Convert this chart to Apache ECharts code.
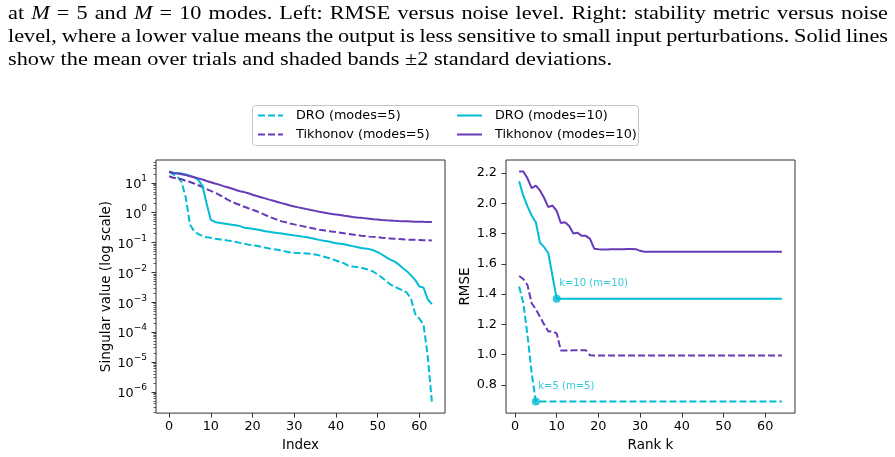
<!DOCTYPE html>
<html><head><meta charset="utf-8">
<script src="https://cdn.jsdelivr.net/npm/echarts@6/dist/echarts.min.js"></script>
<style>html,body{margin:0;padding:0;background:#fff}#c{width:895px;height:457px}</style>
</head><body><div id="c"></div>
<script>
// ---------- caption ----------
const captionLines = [
  'at M = 5 and M = 10 modes. Left: RMSE versus noise level. Right: stability metric versus noise',
  'level, where a lower value means the output is less sensitive to small input perturbations. Solid lines',
  'show the mean over trials and shaded bands \u00b12 standard deviations.'
];
const italicWords = ['M'];

// ---------- legend / series names ----------
const nameDro5 = 'DRO (modes=5)';
const nameDro10 = 'DRO (modes=10)';
const nameTik5 = 'Tikhonov (modes=5)';
const nameTik10 = 'Tikhonov (modes=10)';

// ---------- left panel: singular values vs index ----------
const svIndex = [0,1,2,3,4,5,6,7,8,9,10,11,12,13,14,15,16,17,18,19,20,21,22,23,24,25,26,27,28,29,30,31,
  32,33,34,35,36,37,38,39,40,41,42,43,44,45,46,47,48,49,50,51,52,53,54,55,56,57,58,59,60,61,62,63];
const svDro5 = [23.4,19.1,16.2,10.5,3.16,0.398,0.240,0.191,0.166,0.151,
  0.145,0.135,0.129,0.123,0.117,0.112,0.105,0.0977,0.0912,0.0851,
  0.0813,0.0776,0.0724,0.0676,0.0631,0.0603,0.0575,0.0537,0.0501,0.0468,
  0.0457,0.0447,0.0437,0.0427,0.0417,0.0398,0.0372,0.0339,0.0309,0.0282,
  0.0251,0.0224,0.0200,0.0166,0.0158,0.0151,0.0145,0.0132,0.0120,0.0105,
  0.00851,0.00676,0.00525,0.00398,0.00339,0.00288,0.00251,0.00209,0.00132,0.000407,
  0.000282,0.000178,0.0000158,0.00000047];
const svDro10 = [24.0,21.9,21.4,20.4,19.1,17.4,15.5,12.6,7.94,2.00,
  0.575,0.490,0.457,0.437,0.417,0.398,0.380,0.355,0.316,0.302,
  0.288,0.275,0.257,0.240,0.229,0.219,0.209,0.200,0.191,0.182,
  0.174,0.166,0.158,0.151,0.141,0.132,0.123,0.115,0.110,0.102,
  0.0955,0.0912,0.0871,0.0813,0.0759,0.0708,0.0661,0.0631,0.0603,0.0550,
  0.0479,0.0398,0.0324,0.0269,0.0234,0.0186,0.0141,0.0110,0.00794,0.00562,
  0.00339,0.00309,0.00126,0.00087];
const svTik5 = [16.6,14.8,13.8,13.2,11.7,10.7,9.55,8.32,7.24,6.17,
  5.37,4.68,3.98,3.31,2.75,2.34,2.04,1.82,1.58,1.41,
  1.26,1.12,0.977,0.851,0.724,0.646,0.575,0.513,0.479,0.437,
  0.407,0.380,0.355,0.331,0.309,0.288,0.269,0.257,0.245,0.234,
  0.224,0.214,0.204,0.195,0.186,0.178,0.170,0.166,0.158,0.155,
  0.151,0.145,0.141,0.138,0.135,0.132,0.129,0.126,0.124,0.123,
  0.122,0.120,0.119,0.117];
const svTik10 = [23.4,21.4,20.4,19.5,18.2,16.6,15.5,14.1,12.9,11.5,
  10.5,9.55,8.71,7.76,7.08,6.46,5.75,5.25,4.90,4.47,
  3.98,3.63,3.31,3.02,2.75,2.51,2.29,2.09,1.91,1.74,
  1.62,1.51,1.41,1.32,1.23,1.15,1.07,1.02,0.955,0.912,
  0.871,0.832,0.794,0.759,0.724,0.692,0.676,0.646,0.631,0.603,
  0.589,0.575,0.562,0.550,0.537,0.525,0.519,0.513,0.507,0.501,
  0.501,0.495,0.490,0.490];

// ---------- right panel: RMSE vs rank k ----------
const rankK = [1,2,3,4,5,6,7,8,9,10,11,12,13,14,15,16,17,18,19,20,21,22,23,24,25,26,27,28,29,30,31,32,
  33,34,35,36,37,38,39,40,41,42,43,44,45,46,47,48,49,50,51,52,53,54,55,56,57,58,59,60,61,62,63,64];
const rmseDro5 = [1.45,1.34,1.13,0.88,0.69,0.69,0.69,0.69,0.69,0.69,
  0.69,0.69,0.69,0.69,0.69,0.69,0.69,0.69,0.69,0.69,
  0.69,0.69,0.69,0.69,0.69,0.69,0.69,0.69,0.69,0.69,
  0.69,0.69,0.69,0.69,0.69,0.69,0.69,0.69,0.69,0.69,
  0.69,0.69,0.69,0.69,0.69,0.69,0.69,0.69,0.69,0.69,
  0.69,0.69,0.69,0.69,0.69,0.69,0.69,0.69,0.69,0.69,
  0.69,0.69,0.69,0.69];
const rmseDro10 = [2.145,2.05,1.98,1.92,1.875,1.74,1.71,1.67,1.52,1.37,
  1.37,1.37,1.37,1.37,1.37,1.37,1.37,1.37,1.37,1.37,
  1.37,1.37,1.37,1.37,1.37,1.37,1.37,1.37,1.37,1.37,
  1.37,1.37,1.37,1.37,1.37,1.37,1.37,1.37,1.37,1.37,
  1.37,1.37,1.37,1.37,1.37,1.37,1.37,1.37,1.37,1.37,
  1.37,1.37,1.37,1.37,1.37,1.37,1.37,1.37,1.37,1.37,
  1.37,1.37,1.37,1.37];
const rmseTik5 = [1.52,1.50,1.46,1.34,1.30,1.25,1.20,1.153,1.155,1.14,
  1.028,1.027,1.028,1.029,1.029,1.029,1.029,0.996,0.995,0.995,
  0.995,0.995,0.995,0.995,0.995,0.995,0.995,0.995,0.995,0.995,
  0.995,0.995,0.995,0.995,0.995,0.995,0.995,0.995,0.995,0.995,
  0.995,0.995,0.995,0.995,0.995,0.995,0.995,0.995,0.995,0.995,
  0.995,0.995,0.995,0.995,0.995,0.995,0.995,0.995,0.995,0.995,
  0.995,0.995,0.995,0.995];
const rmseTik10 = [2.21,2.21,2.165,2.10,2.117,2.085,2.035,1.975,1.985,1.95,
  1.87,1.875,1.85,1.80,1.805,1.785,1.785,1.765,1.70,1.697,
  1.695,1.695,1.696,1.697,1.697,1.697,1.698,1.698,1.697,1.686,
  1.68,1.68,1.68,1.68,1.68,1.68,1.68,1.68,1.68,1.68,
  1.68,1.68,1.68,1.68,1.68,1.68,1.68,1.68,1.68,1.68,
  1.68,1.68,1.68,1.68,1.68,1.68,1.68,1.68,1.68,1.68,
  1.68,1.68,1.68,1.68];

// selected ranks (annotated points)
const selRankDro5 = 5;
const selRankDro10 = 10;
const selLabelDro5 = 'k=5 (m=5)';
const selLabelDro10 = 'k=10 (m=10)';

// ---------- tick labels ----------
const xTickValues = [0,10,20,30,40,50,60];
const logTickExponents = [-6,-5,-4,-3,-2,-1,0,1];
const rmseTickValues = [0.8,1.0,1.2,1.4,1.6,1.8,2.0,2.2];

// ---------- styling ----------
const FONT = 'DejaVu Sans';
const C_DRO = '#00BCD4';
const C_TIK = '#673AB7';
const SPINE = '#333333';
const DASH = [7, 3];

function pad5(lo, hi) { const m = 0.05 * (hi - lo); return [lo - m, hi + m]; }

const xL = pad5(Math.min(...svIndex), Math.max(...svIndex));
const xR = pad5(Math.min(...rankK), Math.max(...rankK));
const allSv = [].concat(svDro5, svDro10, svTik5, svTik10);
const lgExt = pad5(Math.log10(Math.min(...allSv)), Math.log10(Math.max(...allSv)));
const allRmse = [].concat(rmseDro5, rmseDro10, rmseTik5, rmseTik10);
const yR = pad5(Math.min(...allRmse), Math.max(...allRmse));

// minor log ticks (2..9 x 10^k)
const minorExp = [];
for (let k = Math.floor(lgExt[0]); k <= Math.ceil(lgExt[1]); k++) {
  for (let m = 2; m <= 9; m++) {
    const e = k + Math.log10(m);
    if (e >= lgExt[0] && e <= lgExt[1]) minorExp.push(e);
  }
}

function powLabel(e) { const n = Math.round(e); return '{b|10}{s|' + (n < 0 ? '\u2212' + (-n) : n) + '}'; }

// ---------- caption layout (justified like the LaTeX source) ----------
const capFont = 'Liberation Serif';
const capSize = 19;
const meas = document.createElement('canvas').getContext('2d');
function tw(t, italic) { meas.font = (italic ? 'italic ' : '') + capSize + 'px "' + capFont + '"'; return meas.measureText(t).width; }
function lineNatural(line) {
  const w = line.split(' ');
  return w.reduce((s, x) => s + tw(x, italicWords.includes(x)), 0) + (w.length - 1) * tw(' ', false);
}
const capScaleX = 604 / lineNatural(captionLines[2]);
const capLeft = 8, capRight = 888;
const capY = [14, 37, 60];
const capJustify = [true, true, false];
const captionEls = [];
captionLines.forEach((line, li) => {
  const words = line.split(' ');
  const widths = words.map(w => tw(w, italicWords.includes(w)) * capScaleX);
  const sum = widths.reduce((a, b) => a + b, 0);
  const gap = capJustify[li] ? (capRight - capLeft - sum) / (words.length - 1) : tw(' ', false) * capScaleX;
  let x = capLeft;
  words.forEach((w, wi) => {
    captionEls.push({
      type: 'text', x: x, y: capY[li], scaleX: capScaleX, silent: true,
      style: { text: w, fontSize: capSize, fontFamily: capFont, fontStyle: italicWords.includes(w) ? 'italic' : 'normal',
        fill: '#000', textAlign: 'left', align: 'left', textVerticalAlign: 'middle', verticalAlign: 'middle' }
    });
    x += widths[wi] + gap;
  });
});

const tickFont = { fontFamily: FONT, fontSize: 12.8, color: '#000' };
const nameFont = { fontFamily: FONT, fontSize: 13.5, color: '#000' };

function lineSeries(name, xs, ys, color, dashed, xi, yi) {
  return {
    type: 'line', name: name, xAxisIndex: xi, yAxisIndex: yi,
    data: xs.map((x, i) => [x, ys[i]]),
    symbol: 'none', showSymbol: false, smooth: false,
    lineStyle: { color: color, width: 2, type: dashed ? DASH : 'solid' },
    itemStyle: { color: color },
    z: 3
  };
}

const legendCommon = {
  orient: 'vertical', top: 109, padding: 0, itemWidth: 25, itemHeight: 14, itemGap: 6,
  selectedMode: false,
  itemStyle: { opacity: 0 },
  textStyle: { fontFamily: FONT, fontSize: 12.8, color: '#000', padding: [0, 0, 0, 8] }
};

function xAxisDef(gi, ext, name) {
  return { gridIndex: gi, type: 'value', min: ext[0], max: ext[1], position: 'bottom',
    axisLine: { show: false, onZero: false }, splitLine: { show: false },
    axisTick: { show: true, customValues: xTickValues, length: 4.5, lineStyle: { color: SPINE, width: 1 } },
    axisLabel: Object.assign({ customValues: xTickValues, margin: 7 }, tickFont),
    name: name, nameLocation: 'middle', nameGap: 22, nameTextStyle: nameFont };
}

const option = {
  animation: false,
  backgroundColor: '#fff',
  graphic: captionEls.concat([{
    type: 'rect', z: 1, silent: true,
    shape: { x: 252.5, y: 105.5, width: 386, height: 40, r: 3 },
    style: { fill: 'rgba(255,255,255,0.8)', stroke: '#c4c4c4', lineWidth: 1 }
  }]),
  legend: [
    Object.assign({ left: 257, data: [nameDro5, nameTik5] }, legendCommon),
    Object.assign({ left: 456, data: [nameDro10, nameTik10] }, legendCommon)
  ],
  grid: [
    { left: 156, top: 160, width: 289, height: 255, show: true, borderColor: SPINE, borderWidth: 1, backgroundColor: 'transparent' },
    { left: 506, top: 160, width: 289, height: 255, show: true, borderColor: SPINE, borderWidth: 1, backgroundColor: 'transparent' }
  ],
  xAxis: [ xAxisDef(0, xL, 'Index'), xAxisDef(1, xR, 'Rank k') ],
  yAxis: [
    // 0: true log axis carrying the data
    { gridIndex: 0, type: 'log', logBase: 10, position: 'left',
      min: Math.pow(10, lgExt[0]), max: Math.pow(10, lgExt[1]),
      axisLine: { show: false, onZero: false }, axisTick: { show: false }, axisLabel: { show: false }, splitLine: { show: false } },
    // 1: decade ticks / labels (exponent units, same extent)
    { gridIndex: 0, type: 'value', position: 'left', min: lgExt[0], max: lgExt[1],
      axisLine: { show: false, onZero: false }, splitLine: { show: false },
      axisTick: { show: true, customValues: logTickExponents, length: 4.5, lineStyle: { color: SPINE, width: 1 } },
      axisLabel: Object.assign({ customValues: logTickExponents, margin: 9, formatter: v => powLabel(v),
        rich: {
          b: { fontFamily: FONT, fontSize: 12.8, color: '#000', lineHeight: 17, verticalAlign: 'bottom' },
          s: { fontFamily: FONT, fontSize: 9, color: '#000', lineHeight: 9, verticalAlign: 'top' }
        } }, tickFont),
      name: 'Singular value (log scale)', nameLocation: 'middle', nameGap: 40, nameTextStyle: nameFont },
    // 2: minor log ticks
    { gridIndex: 0, type: 'value', position: 'left', min: lgExt[0], max: lgExt[1],
      axisLine: { show: false, onZero: false }, splitLine: { show: false }, axisLabel: { show: false },
      axisTick: { show: true, customValues: minorExp, length: 2.5, lineStyle: { color: SPINE, width: 0.8 } } },
    // 3: RMSE
    { gridIndex: 1, type: 'value', position: 'left', min: yR[0], max: yR[1],
      axisLine: { show: false, onZero: false }, splitLine: { show: false },
      axisTick: { show: true, customValues: rmseTickValues, length: 4.5, lineStyle: { color: SPINE, width: 1 } },
      axisLabel: Object.assign({ customValues: rmseTickValues, margin: 9, formatter: v => v.toFixed(1) }, tickFont),
      name: 'RMSE', nameLocation: 'middle', nameGap: 31, nameTextStyle: nameFont }
  ],
  series: [
    lineSeries(nameDro5, svIndex, svDro5, C_DRO, true, 0, 0),
    lineSeries(nameTik5, svIndex, svTik5, C_TIK, true, 0, 0),
    lineSeries(nameDro10, svIndex, svDro10, C_DRO, false, 0, 0),
    lineSeries(nameTik10, svIndex, svTik10, C_TIK, false, 0, 0),
    lineSeries(nameDro5, rankK, rmseDro5, C_DRO, true, 1, 3),
    lineSeries(nameTik5, rankK, rmseTik5, C_TIK, true, 1, 3),
    lineSeries(nameDro10, rankK, rmseDro10, C_DRO, false, 1, 3),
    lineSeries(nameTik10, rankK, rmseTik10, C_TIK, false, 1, 3),
    {
      type: 'scatter', name: 'selected', xAxisIndex: 1, yAxisIndex: 3, z: 5,
      symbol: 'circle', symbolSize: 8, itemStyle: { color: C_DRO },
      data: [
        { value: [selRankDro10, rmseDro10[rankK.indexOf(selRankDro10)]], lbl: selLabelDro10 },
        { value: [selRankDro5, rmseDro5[rankK.indexOf(selRankDro5)]], lbl: selLabelDro5 }
      ],
      label: { show: true, position: [6.5, -11], align: 'left', verticalAlign: 'middle',
        formatter: p => p.data.lbl, fontFamily: FONT, fontSize: 10, color: C_DRO }
    }
  ]
};

const chart = echarts.init(document.getElementById('c'), null, { renderer: 'canvas' });
chart.setOption(option);
</script>
</body></html>
